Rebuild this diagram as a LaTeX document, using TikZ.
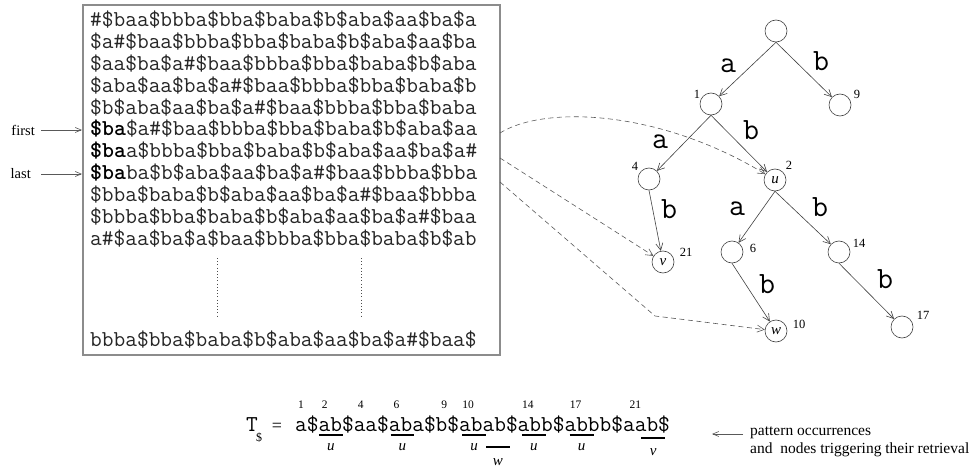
\documentclass[tikz,border=0pt]{standalone}
\usepackage{fontspec}
\setmainfont{Liberation Serif}
\usetikzlibrary{arrows.meta}
\begin{document}
\begin{tikzpicture}[x=1pt,y=-1pt,
  tnode/.style={circle,draw=black!75,line width=0.6pt,minimum size=22pt,inner sep=0pt,
    font=\fontsize{15}{15}\selectfont\itshape},
  tedge/.style={draw=black!75,line width=0.6pt,-{Straight Barb[length=7pt,width=7pt]}},
  elab/.style={inner sep=0pt,font=\ttfamily\fontsize{31}{31}\selectfont},
  nlab/.style={inner sep=0pt,font=\fontsize{12.5}{12.5}\selectfont},
  rowtext/.style={anchor=base west,inner sep=0pt,text=black!85,font=\ttfamily\fontsize{22.74}{23}\selectfont},
  dashedge/.style={draw=black!65,line width=0.6pt,dash pattern=on 5pt off 3.5pt,
    -{Straight Barb[length=7pt,width=7pt]}},
  thinarrow/.style={draw=black!65,line width=0.6pt,-{Straight Barb[length=6pt,width=5pt]}},
  sidelab/.style={inner sep=0pt,font=\fontsize{14.5}{14.5}\selectfont},
  bar/.style={line width=2pt,black},
  poslab/.style={inner sep=0pt,font=\fontsize{11.5}{11.5}\selectfont},
  occlab/.style={inner sep=0pt,font=\fontsize{15}{15}\selectfont\itshape}
]
\useasboundingbox (0,0) rectangle (975,468);

% ---------- box of rotations ----------
\draw[black!45,line width=1.2pt] (83,5) rectangle (500,355);
\node[rowtext] (r1)  at (90,27.0)  {\#\$baa\$bbba\$bba\$baba\$b\$aba\$aa\$ba\$a};
\node[rowtext] (r2)  at (90,48.8)  {\$a\#\$baa\$bbba\$bba\$baba\$b\$aba\$aa\$ba};
\node[rowtext] (r3)  at (90,70.6)  {\$aa\$ba\$a\#\$baa\$bbba\$bba\$baba\$b\$aba};
\node[rowtext] (r4)  at (90,92.4)  {\$aba\$aa\$ba\$a\#\$baa\$bbba\$bba\$baba\$b};
\node[rowtext] (r5)  at (90,114.2) {\$b\$aba\$aa\$ba\$a\#\$baa\$bbba\$bba\$baba};
\node[rowtext] (r6)  at (90,136.0) {{\bfseries\color{black}\$ba}\$a\#\$baa\$bbba\$bba\$baba\$b\$aba\$aa};
\node[rowtext] (r7)  at (90,157.8) {{\bfseries\color{black}\$ba}a\$bbba\$bba\$baba\$b\$aba\$aa\$ba\$a\#};
\node[rowtext] (r8)  at (90,179.6) {{\bfseries\color{black}\$ba}ba\$b\$aba\$aa\$ba\$a\#\$baa\$bbba\$bba};
\node[rowtext] (r9)  at (90,201.4) {\$bba\$baba\$b\$aba\$aa\$ba\$a\#\$baa\$bbba};
\node[rowtext] (r10) at (90,223.2) {\$bbba\$bba\$baba\$b\$aba\$aa\$ba\$a\#\$baa};
\node[rowtext] (r11) at (90,245.0) {a\#\$aa\$ba\$a\$baa\$bbba\$bba\$baba\$b\$ab};
\node[rowtext] (r12) at (90,346.0) {bbba\$bba\$baba\$b\$aba\$aa\$ba\$a\#\$baa\$};
\draw[black!70,line width=0.8pt,dash pattern=on 0.8pt off 2.4pt] (217,258) -- (217,318);
\draw[black!70,line width=0.8pt,dash pattern=on 0.8pt off 2.4pt] (361,258) -- (361,318);

% first / last
\node[sidelab,anchor=east] (first) at (35,130) {first};
\node[sidelab,anchor=east] (last) at (31,174) {last};
\coordinate (fs) at (41,130);
\coordinate (fe) at (82,130);
\coordinate (ls) at (41,174);
\coordinate (le) at (82,174);
\draw[thinarrow] (fs) -- (fe);
\draw[thinarrow] (ls) -- (le);

% ---------- tree ----------
\node[tnode] (root) at (776,31) {};
\node[tnode] (n1)   at (711,104) {};
\node[tnode] (n9)   at (840,105) {};
\node[tnode] (n4)   at (649,179) {};
\node[tnode] (u)    at (775,180) {u};
\node[tnode] (v)    at (663,262) {v};
\node[tnode] (n6)   at (732,252) {};
\node[tnode] (n14)  at (839,252) {};
\node[tnode] (w)    at (776,331) {w};
\node[tnode] (n17)  at (902,327) {};

\draw[tedge] (root.south) -- (n1);
\draw[tedge] (root.south) -- (n9);
\draw[tedge] (n1.south) -- (n4);
\draw[tedge] (n1.south) -- (u);
\draw[tedge] (n4.south) -- (v);
\draw[tedge] (u.south) -- (n6);
\draw[tedge] (u.south) -- (n14);
\draw[tedge] (n6.south) -- (w);
\draw[tedge] (n14.south) -- (n17);

\node[elab] (ea1) at (728,66) {a};
\node[elab] (eb1) at (821,61) {b};
\node[elab] (ea2) at (660,142) {a};
\node[elab] (eb2) at (751,130) {b};
\node[elab] (eb3) at (669,209) {b};
\node[elab] (ea3) at (737,209) {a};
\node[elab] (eb4) at (820,207) {b};
\node[elab] (eb5) at (767,284) {b};
\node[elab] (eb6) at (885,279) {b};

\node[nlab] (l1)  at (697,94)  {1};
\node[nlab] (l9)  at (857,94)  {9};
\node[nlab] (l4)  at (635,166) {4};
\node[nlab] (l2)  at (789,165) {2};
\node[nlab] (l21) at (686,252) {21};
\node[nlab] (l6)  at (753,248) {6};
\node[nlab] (l14) at (859,243) {14};
\node[nlab] (l10) at (799,324) {10};
\node[nlab] (l17) at (923,315) {17};

% dashed pointers
\coordinate (d1) at (500,133);
\coordinate (d2) at (500,158);
\coordinate (d3) at (500,182);
\coordinate (bend) at (655,316);
\draw[dashedge] (d1) .. controls (545,105) and (660,110) .. (u);
\draw[dashedge] (d2) -- (v);
\draw[dashedge] (d3) -- (bend) -- (w);

% ---------- text string ----------
\node[inner sep=0pt,anchor=base,font=\ttfamily\fontsize{22.74}{23}\selectfont] (T) at (252,431) {T};
\node[inner sep=0pt,anchor=base,font=\fontsize{12}{12}\selectfont] (Tsub) at (259,441) {\$};
\node[inner sep=0pt,anchor=base,font=\fontsize{18}{18}\selectfont] (eq) at (277,431) {=};
\node[rowtext,text=black] (ts) at (295,431) {a\$ab\$aa\$aba\$b\$abab\$abb\$abbb\$aab\$};
\foreach \i/\n in {0/1,2/2,5/4,8/6,12/9,14/10,19/14,23/17,28/21}
  \node[poslab] (p\n) at ({295+11.94*(\i+0.5)},405) {\n};
\foreach \i in {2,8,14,19,23}{
  \draw[bar] ({295+11.94*\i},434.5) -- ({295+11.94*(\i+2)},434.5);
  \node[occlab] (ul\i) at ({295+11.94*(\i+1)},447) {u};
}
\draw[bar] ({295+11.94*16},447) -- ({295+11.94*18},447);
\node[occlab] (wl) at ({295+11.94*17},462) {w};
\draw[bar] ({295+11.94*29},438) -- ({295+11.94*31},438);
\node[occlab] (vl) at ({295+11.94*30},452) {v};

% legend
\coordinate (rs) at (743,434);
\coordinate (re) at (712,434);
\draw[thinarrow] (rs) -- (re);
\node[inner sep=0pt,anchor=west,font=\fontsize{15.5}{15.5}\selectfont] (pat) at (750,433) {pattern occurrences};
\node[inner sep=0pt,anchor=west,font=\fontsize{15.5}{15.5}\selectfont] (andn) at (750,450) {and\ \ nodes triggering their retrieval};
\end{tikzpicture}
\end{document}
